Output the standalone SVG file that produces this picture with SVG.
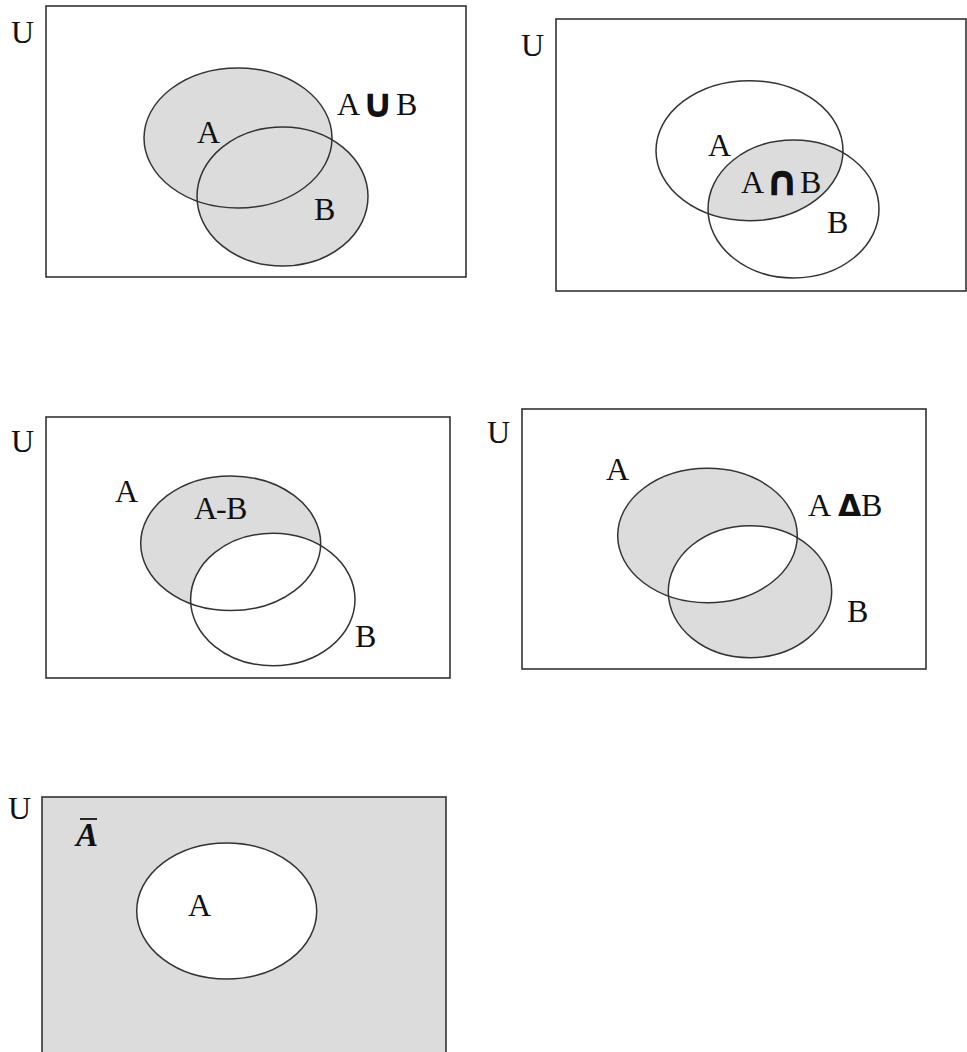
<svg xmlns="http://www.w3.org/2000/svg" width="967" height="1052" viewBox="0 0 967 1052">
<style>
.frame{fill:#fff;stroke:#333;stroke-width:1.6}
.gframe{fill:#dcdcdc;stroke:#333;stroke-width:1.6}
.sh{fill:#dcdcdc;stroke:none}
.wh{fill:#fff;stroke:none}
.ol{fill:none;stroke:#333;stroke-width:1.5}
.t{font-family:'Liberation Serif','Times New Roman',serif;font-size:32px;fill:#111}
.sym{font-family:'DejaVu Sans',sans-serif;font-weight:bold;fill:#111}
</style>
<defs>
<clipPath id="c2A"><ellipse cx="749.5" cy="150.7" rx="93.5" ry="70"/></clipPath>
<clipPath id="c4A"><ellipse cx="707.5" cy="535.5" rx="89.8" ry="67.2"/></clipPath>
</defs>
<rect width="967" height="1052" fill="#fff"/>

<g id="union">
<rect class="frame" x="46" y="6" width="420" height="271"/>
<text class="t" x="11" y="43">U</text>
<ellipse class="sh" cx="238" cy="138" rx="94" ry="70"/>
<ellipse class="sh" cx="282.5" cy="196.5" rx="85.5" ry="69.5"/>
<ellipse class="ol" cx="238" cy="138" rx="94" ry="70"/>
<ellipse class="ol" cx="282.5" cy="196.5" rx="85.5" ry="69.5"/>
<text class="t" x="197" y="143">A</text>
<text class="t" x="314" y="220">B</text>
<text class="t" x="337" y="115">A<tspan class="sym" x="361.5" y="117" font-size="40">∪</tspan><tspan x="396" y="115">B</tspan></text>
</g>

<g id="intersection">
<rect class="frame" x="556" y="19" width="410" height="272"/>
<text class="t" x="521" y="56">U</text>
<ellipse class="sh" cx="793.5" cy="209" rx="85.5" ry="69" clip-path="url(#c2A)"/>
<ellipse class="ol" cx="749.5" cy="150.7" rx="93.5" ry="70"/>
<ellipse class="ol" cx="793.5" cy="209" rx="85.5" ry="69"/>
<text class="t" x="708" y="156">A</text>
<text class="t" x="741" y="192.5">A<tspan class="sym" x="765" y="195" font-size="42">∩</tspan><tspan x="800" y="192.5">B</tspan></text>
<text class="t" x="827" y="232.5">B</text>
</g>

<g id="difference">
<rect class="frame" x="46" y="417" width="404" height="261"/>
<text class="t" x="11" y="452">U</text>
<ellipse class="sh" cx="230.7" cy="543.3" rx="90" ry="67.3"/>
<ellipse class="wh" cx="272.8" cy="599.5" rx="82.2" ry="66.2"/>
<ellipse class="ol" cx="230.7" cy="543.3" rx="90" ry="67.3"/>
<ellipse class="ol" cx="272.8" cy="599.5" rx="82.2" ry="66.2"/>
<text class="t" x="115" y="501.5">A</text>
<text class="t" x="194" y="519">A<tspan x="216">-</tspan><tspan x="226">B</tspan></text>
<text class="t" x="355" y="646.5">B</text>
</g>

<g id="symdiff">
<rect class="frame" x="522" y="409" width="404" height="260"/>
<text class="t" x="487" y="443">U</text>
<ellipse class="sh" cx="707.5" cy="535.5" rx="89.8" ry="67.2"/>
<ellipse class="sh" cx="750" cy="591.7" rx="81.7" ry="66"/>
<ellipse class="wh" cx="750" cy="591.7" rx="81.7" ry="66" clip-path="url(#c4A)"/>
<ellipse class="ol" cx="707.5" cy="535.5" rx="89.8" ry="67.2"/>
<ellipse class="ol" cx="750" cy="591.7" rx="81.7" ry="66"/>
<text class="t" x="606" y="480">A</text>
<text class="t" x="808" y="515.5">A<tspan class="sym" x="838" font-size="30">Δ</tspan><tspan x="861">B</tspan></text>
<text class="t" x="847" y="621.5">B</text>
</g>

<g id="complement">
<rect class="gframe" x="42" y="797" width="404" height="270"/>
<text class="t" x="8" y="819">U</text>
<ellipse class="wh" cx="226.7" cy="911" rx="90" ry="68"/>
<ellipse class="ol" cx="226.7" cy="911" rx="90" ry="68"/>
<text class="t" x="188" y="915.5">A</text>
<line x1="80" y1="819" x2="97" y2="819" stroke="#111" stroke-width="1.8"/>
<text x="76" y="846" font-family="'Liberation Serif',serif" font-size="33" font-weight="bold" font-style="italic" fill="#111">A</text>
</g>
</svg>
